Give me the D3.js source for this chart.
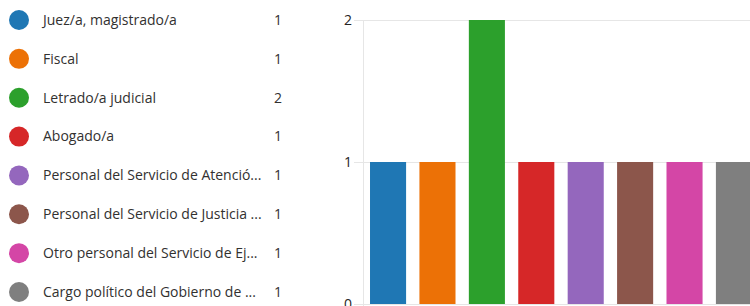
<!DOCTYPE html>
<html>
<head>
<meta charset="utf-8">
<script src="https://cdn.jsdelivr.net/npm/d3@7"></script>
<style>
  body { margin: 0; background: #fff; }
  svg { display: block; font-family: "Open Sans", "Noto Sans", sans-serif; }
</style>
</head>
<body>
<svg id="chart" width="750" height="306"></svg>
<script>
const categories = [
    "Juez/a, magistrado/a",
    "Fiscal",
    "Letrado/a judicial",
    "Abogado/a",
    "Personal del Servicio de Atenció...",
    "Personal del Servicio de Justicia ...",
    "Otro personal del Servicio de Ej...",
    "Cargo político del Gobierno de ..."
];
const counts = [ 1, 1, 2, 1, 1, 1, 1, 1 ];
const colors = [ "#1f77b4", "#ec7106", "#2ca02c", "#d62728", "#9467bd", "#8c564b", "#d446a6", "#7f7f7f" ];
const yTicks = [ 0, 1, 2 ];

const svg = d3.select( "#chart" );

// legend on the left
const legend = svg.append( "g" );
const rowY = d3.scalePoint()
    .domain( d3.range( categories.length ) )
    .range( [ 20, 292 ] );

const rows = legend.selectAll( "g" )
    .data( categories )
    .enter()
    .append( "g" )
    .attr( "transform", ( d, i ) => `translate(0, ${rowY( i )})` );

rows.append( "circle" )
    .attr( "cx", 19 )
    .attr( "cy", 0 )
    .attr( "r", 10 )
    .attr( "fill", ( d, i ) => colors[i] );

rows.append( "text" )
    .attr( "x", 43 )
    .attr( "dy", "0.35em" )
    .style( "font-size", "14px" )
    .attr( "fill", "#323130" )
    .text( d => d );

rows.append( "text" )
    .attr( "x", 282 )
    .attr( "dy", "0.35em" )
    .attr( "text-anchor", "end" )
    .style( "font-size", "14px" )
    .attr( "fill", "#323130" )
    .text( ( d, i ) => counts[i] );

// bar chart on the right
const axisX = 363;
const xscale = d3.scaleBand()
    .domain( d3.range( categories.length ) )
    .range( [ axisX, 759 ] )
    .paddingInner( 0.27 )
    .paddingOuter( 0.142 );

const yscale = d3.scaleLinear()
    .domain( [ 0, 2 ] )
    .range( [ 304, 20 ] );

const yaxis = d3.axisLeft( yscale )
    .tickValues( yTicks )
    .tickFormat( d3.format( "d" ) )
    .tickSize( -(750 - axisX + 9) )
    .tickPadding( 3 );

const yaxis_group = svg.append( "g" )
    .attr( "transform", `translate(${750}, 0)` )
    .call( yaxis );

yaxis_group.select( ".domain" ).remove();
yaxis_group.selectAll( ".tick line" )
    .attr( "x1", 0 )
    .attr( "x2", -(750 - axisX + 9) )
    .attr( "stroke", "#e6e6e6" );
yaxis_group.selectAll( ".tick text" )
    .attr( "x", -(750 - axisX + 9) - 2 )
    .style( "font-size", "14px" )
    .style( "font-family", "'Open Sans', 'Noto Sans', sans-serif" )
    .attr( "fill", "#252423" );

svg.append( "line" )
    .attr( "x1", axisX + 0.5 )
    .attr( "x2", axisX + 0.5 )
    .attr( "y1", 20 )
    .attr( "y2", 306 )
    .attr( "stroke", "#e6e6e6" );

svg.append( "g" )
    .selectAll( "rect" )
    .data( counts )
    .enter()
    .append( "rect" )
    .attr( "x", ( d, i ) => xscale( i ) )
    .attr( "y", d => yscale( d ) )
    .attr( "width", xscale.bandwidth() )
    .attr( "height", d => yscale( 0 ) - yscale( d ) )
    .attr( "fill", ( d, i ) => colors[i] );
</script>
</body>
</html>
